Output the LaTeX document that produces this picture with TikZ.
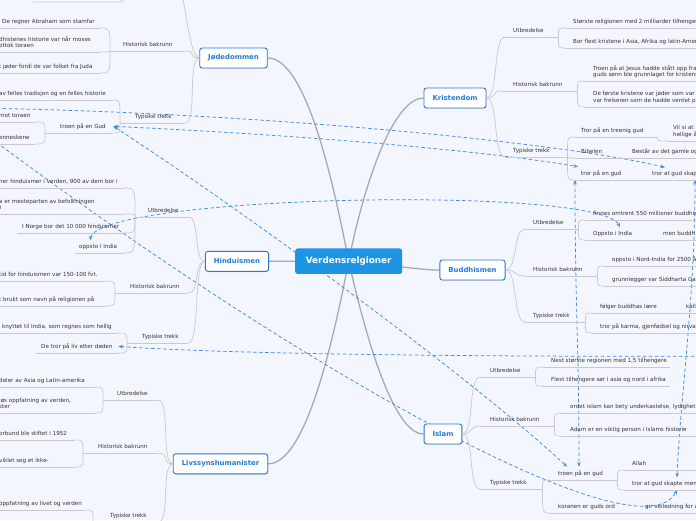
\documentclass[tikz,border=0pt]{standalone}
\usepackage{fontspec}
\setmainfont{DejaVu Sans}
\usetikzlibrary{arrows.meta,shadows}
\definecolor{bgblue}{RGB}{243,246,252}
\definecolor{ink}{RGB}{51,51,51}
\definecolor{twiggray}{RGB}{200,201,206}
\definecolor{trunkgray}{RGB}{168,170,176}
\definecolor{rim}{RGB}{38,122,214}
\definecolor{hubfill}{RGB}{28,150,228}
\definecolor{linkblue}{RGB}{62,141,232}
\newcommand{\tline}[3]{\makebox[#1pt][l]{\hspace*{#2pt}#3}}
\newcommand{\twolines}[2]{\begin{tabular}[b]{@{}l@{}}#1\\#2\end{tabular}}
\pgfdeclarelayer{paper}
\pgfdeclarelayer{wires}
\pgfsetlayers{paper,wires,main}

\begin{document}
\begin{tikzpicture}
  [x=1pt,y=-1pt,
   hub/.style={rectangle,rounded corners=2.5pt,fill=hubfill,text=white,
     font=\bfseries\fontsize{8.8}{10}\selectfont,minimum width=107pt,minimum height=25.5pt,inner sep=0pt},
   religion/.style={rectangle,rounded corners=2.5pt,draw=rim,line width=0.9pt,fill=white,text=rim,
     font=\bfseries\fontsize{6.9}{8}\selectfont,minimum height=20pt,inner xsep=8.5pt,inner ysep=0pt,
     drop shadow={opacity=0.22,shadow xshift=0.6pt,shadow yshift=-0.8pt}},
   topic/.style={anchor=south west,font=\fontsize{5.6}{6.4}\selectfont,text=ink,
     inner xsep=0pt,inner ysep=4pt,text depth=0pt},
   twig/.style={draw=twiggray,line width=0.7pt},
   trunk/.style={draw=trunkgray,line width=1.3pt},
   relation/.style={draw=linkblue,line width=0.75pt,dash pattern=on 3.5pt off 2.5pt,
     {Stealth[length=4.5pt,width=3.6pt]}-{Stealth[length=4.5pt,width=3.6pt]}},
   elbow/.style={to path={.. controls (\tikztostart |- \tikztotarget) and (\tikztostart |- \tikztotarget) .. (\tikztotarget)}}]

  \useasboundingbox (0,0) rectangle (696,520);
  \begin{pgfonlayer}{paper}
    \fill[bgblue] (0,0) rectangle (696,520);
  \end{pgfonlayer}
  \clip (0,0) rectangle (696,520);

  \node[hub] (r) at (348.7,261.2) {Verdensrelgioner};
  \node[religion] (j) at (233.5,58) {Jødedommen};
  \node[religion] (h) at (237,261.3) {Hinduismen};
  \node[religion] (l) at (220.5,463.8) {Livssynshumanister};
  \node[religion] (k) at (455,98) {Kristendom};
  \node[religion] (b) at (472.5,270) {Buddhismen};
  \node[religion] (i) at (443,434) {Islam};

  \coordinate (j1) at (172,-30);
  \coordinate (j1w) at (125,-30);
  \coordinate (j13) at (117,2);
  \coordinate (j13w) at (33,2);
  \node[topic] (j2) at (110,51) {\tline{75}{13}{Historisk bakrunn}};
  \node[topic] (j3) at (120,123) {\tline{65}{15}{Typiske trekk}};
  \node[topic] (j21) at (-3,28) {\tline{103}{5}{De regner Abraham som stamfar}};
  \node[topic] (j22) at (-10,52) {\tline{110}{9}{\twolines{dhistenes historie var når moses}{ottok toraen}}};
  \node[topic] (j23) at (-10,73) {\tline{110}{9}{t jøder fordi de var folket fra Juda}};
  \node[topic] (j31) at (-10,100) {\tline{123}{9}{av felles tradisjon og en felles historie}};
  \node[topic] (j32) at (45,133) {\tline{68}{15}{troen på en Gud}};
  \node[topic] (j321) at (-10,122) {\tline{45}{9}{mot toraen}};
  \node[topic] (j322) at (-10,144) {\tline{45}{9}{enneskene}};

  \node[topic] (h1) at (135,217) {\tline{53}{13}{Utbredelse}};
  \node[topic] (h2) at (115,293) {\tline{73}{15}{Historisk bakrunn}};
  \node[topic] (h3) at (127,343) {\tline{61}{15}{Typiske trekk}};
  \node[topic] (h11) at (-10,188) {\tline{133}{9}{\twolines{ner hinduismer i verden, 900 av dem bor i}{}}};
  \node[topic] (h12) at (-10,214) {\tline{133}{9}{\twolines{a er mesteparten av befolkningen}{)}}};
  \node[topic] (h13) at (17,233) {\tline{106}{5}{I Norge bor det 10 000 hinduismer}};
  \node[topic] (h14) at (75,253) {\tline{48}{4}{oppsto i India}};
  \node[topic] (h21) at (-10,281) {\tline{116}{9}{tid for hinduismen var 150-100 fvt.}};
  \node[topic] (h22) at (-10,306) {\tline{116}{9}{\twolines{t brukt som navn på religionen på}{}}};
  \node[topic] (h31) at (-10,333) {\tline{128}{12}{knyttet til India, som regnes som hellig}};
  \node[topic] (h32) at (36,353) {\tline{82}{5}{De tror på liv etter døden}};

  \node[topic] (l1) at (103,400) {\tline{55}{14}{Utbredelse}};
  \node[topic] (l2) at (83,453) {\tline{75}{15}{Historisk bakrunn}};
  \node[topic] (l3) at (93,522) {\tline{65}{17}{Typiske trekk}};
  \node[topic] (l11) at (-10,387) {\tline{105}{9}{deler av Asia og Latin-amerika}};
  \node[topic] (l12) at (-10,413) {\tline{105}{9}{\twolines{iøs oppfatning av verden,}{ster}}};
  \node[topic] (l21) at (-10,440) {\tline{85}{9}{orbund ble stiftet i 1952}};
  \node[topic] (l22) at (-10,467) {\tline{85}{9}{\twolines{viklet seg et ikke-}{}}};
  \node[topic] (l31) at (-10,510) {\tline{95}{9}{oppfatning av livet og verden}};

  \node[topic] (k1) at (505,37) {\tline{53}{8}{Utbredelse}};
  \node[topic] (k2) at (502,91) {\tline{75}{11}{Historisk bakrunn}};
  \node[topic] (k3) at (505,157) {\tline{62}{8}{Typiske trekk}};
  \node[topic] (k11) at (565,28) {\tline{140}{8}{Største religionen med 2 milliarder tilhengere}};
  \node[topic] (k12) at (565,48) {\tline{140}{8}{Bor flest kristene i Asia, Afrika og latin-Amerika}};
  \node[topic] (k21) at (584,81) {\tline{120}{9}{\twolines{Troen på at Jesus hadde stått opp fra}{guds sønn ble grunnlaget for kristend}}};
  \node[topic] (k22) at (584,107) {\tline{120}{9}{\twolines{De første kristene var jøder som var}{var frelseren som de hadde ventet på}}};
  \node[topic] (k31) at (574,137) {\tline{83}{7}{Tror på en treenig gud}};
  \node[topic] (k311) at (667,141) {\tline{50}{6}{\twolines{Vil si at}{hellige å}}};
  \node[topic] (k32) at (574,158) {\tline{42}{7}{Bibelen}};
  \node[topic] (k321) at (616,158) {\tline{100}{16}{Består av det gamle og}};
  \node[topic] (k33) at (574,180) {\tline{62}{7}{tror på en gud}};
  \node[topic] (k331) at (636,180) {\tline{90}{16}{tror at gud skap}};

  \node[topic] (b1) at (525,229) {\tline{53}{8}{Utbredelse}};
  \node[topic] (b2) at (525,276) {\tline{72}{8}{Historisk bakrunn}};
  \node[topic] (b3) at (525,322) {\tline{60}{8}{Typiske trekk}};
  \node[topic] (b11) at (585,220) {\tline{130}{8}{finnes omtrent 550 millioner buddhis}};
  \node[topic] (b12) at (585,240) {\tline{65}{8}{Oppsto i India}};
  \node[topic] (b121) at (650,240) {\tline{60}{13}{men buddh}};
  \node[topic] (b21) at (604,266) {\tline{110}{8}{oppsto i Nord-India for 2500 å}};
  \node[topic] (b22) at (604,286) {\tline{110}{8}{grunnlegger var Siddharta Gau}};
  \node[topic] (b31) at (592,313) {\tline{80}{8}{følger buddhas lære}};
  \node[topic] (b311) at (672,313) {\tline{40}{14}{kall}};
  \node[topic] (b32) at (592,333) {\tline{120}{8}{tror på karma, gjenfødsel og nirvana}};

  \node[topic] (i1) at (480,377) {\tline{55}{10}{Utbredelse}};
  \node[topic] (i2) at (480,426) {\tline{74}{10}{Historisk bakrunn}};
  \node[topic] (i3) at (480,489) {\tline{62}{10}{Typiske trekk}};
  \node[topic] (i11) at (542,367) {\tline{128}{9}{Nest største regionen med 1,5 tilhengere}};
  \node[topic] (i12) at (542,386) {\tline{128}{9}{Flest tilhengere sør i asia og nord i afrika}};
  \node[topic] (i21) at (561,413) {\tline{150}{9}{ordet islam kan bety underkastelse, lydighet o}};
  \node[topic] (i22) at (561,436) {\tline{150}{9}{Adam er en viktig person i Islams historie}};
  \node[topic] (i31) at (549,480) {\tline{68}{9}{troen på en gud}};
  \node[topic] (i311) at (624,470) {\tline{75}{8}{Allah}};
  \node[topic] (i312) at (624,490) {\tline{100}{8}{tror at gud skapte men}};
  \node[topic] (i32) at (549,513) {\tline{88}{9}{koranen er guds ord}};
  \node[topic] (i321) at (637,513) {\tline{80}{8}{gir veiledning for a}};

  \coordinate (aw) at (-30,108);
  \coordinate (cw) at (-20,130);
  \coordinate (ee) at (760,356);

  \foreach \n in {j2,j3,j21,j22,j23,j31,j32,j321,j322,h1,h2,h3,h11,h12,h13,h14,h21,h22,h31,h32,
      l1,l2,l3,l11,l12,l21,l22,l31,k1,k2,k3,k11,k12,k21,k22,k31,k311,k32,k321,k33,k331,
      b1,b2,b3,b11,b12,b121,b21,b22,b31,b311,b32,i1,i2,i3,i11,i12,i21,i22,i31,i311,i312,i32,i321}
    \draw[twig] (\n.south west) -- (\n.south east);

  \foreach \from/\to in {k/k1,k/k2,k/k3,b/b1,b/b2,b/b3,i/i1,i/i2,i/i3}
    \draw[twig] (\from.east) .. controls +(12,0) and +(-12,0) .. (\to.south west);
  \foreach \from/\to in {j/j2,j/j3,h/h1,h/h2,h/h3,l/l1,l/l2,l/l3}
    \draw[twig] (\from.west) .. controls +(-12,0) and +(12,0) .. (\to.south east);
  \draw[twig] (j.west) .. controls +(-12,0) and +(12,0) .. (j1) -- (j1w) to[elbow] (j13) -- (j13w);

  \foreach \from/\to in {k1/k11,k1/k12,k2/k21,k2/k22,k3/k31,k3/k32,k3/k33,k31/k311,k32/k321,k33/k331,
      b1/b11,b1/b12,b12/b121,b2/b21,b2/b22,b3/b31,b3/b32,b31/b311,
      i1/i11,i1/i12,i2/i21,i2/i22,i3/i31,i3/i32,i31/i311,i31/i312,i32/i321}
    \draw[twig] (\from.south east) to[elbow] (\to.south west);
  \foreach \from/\to in {j2/j21,j2/j22,j2/j23,j3/j31,j3/j32,j32/j321,j32/j322,
      h1/h11,h1/h12,h1/h13,h1/h14,h2/h21,h2/h22,h3/h31,h3/h32,l1/l11,l1/l12,l2/l21,l2/l22,l3/l31}
    \draw[twig] (\from.south west) to[elbow] (\to.south east);

  \begin{pgfonlayer}{wires}
    \clip (0,0) rectangle (696,520);
    \draw[trunk] (r.center) .. controls (332,175) and (305,58) .. (j.east);
    \draw[trunk] (r.center) .. controls (366,175) and (395,98) .. (k.west);
    \draw[trunk] (r.center) -- (h.east);
    \draw[trunk] (r.center) .. controls (400,266) and (420,270) .. (b.west);
    \draw[trunk] (r.center) .. controls (332,347) and (305,464) .. (l.east);
    \draw[trunk] (r.center) .. controls (368,347) and (395,434) .. (i.west);

    \draw[relation] (aw) .. controls (250,112) and (560,142) .. ([xshift=29pt]k331.north west);
    \draw[relation] (j32.east) .. controls (300,135) and (480,150) .. ([xshift=4pt]k33.north west);
    \draw[relation] (j32.east) .. controls (250,215) and (480,385) .. ([xshift=18pt]i31.north west);
    \draw[relation] (cw) .. controls (300,370) and (640,560) .. ([xshift=53pt]i312.south west);
    \draw[relation] ([xshift=15pt]h14.north west) .. controls (100,195) and (600,185) .. ([xshift=35pt]b12.north west);
    \draw[relation] (h32.east) .. controls (250,356) and (600,357) .. (ee);
    \draw[relation] ([xshift=1pt]k33.south west) .. controls (575,300) and (579,350) .. ([xshift=30pt]i31.north west);
    \draw[relation] ([xshift=59pt]k331.south west) .. controls (695,300) and (680,400) .. ([xshift=53pt]i312.north west);
  \end{pgfonlayer}
\end{tikzpicture}
\end{document}
